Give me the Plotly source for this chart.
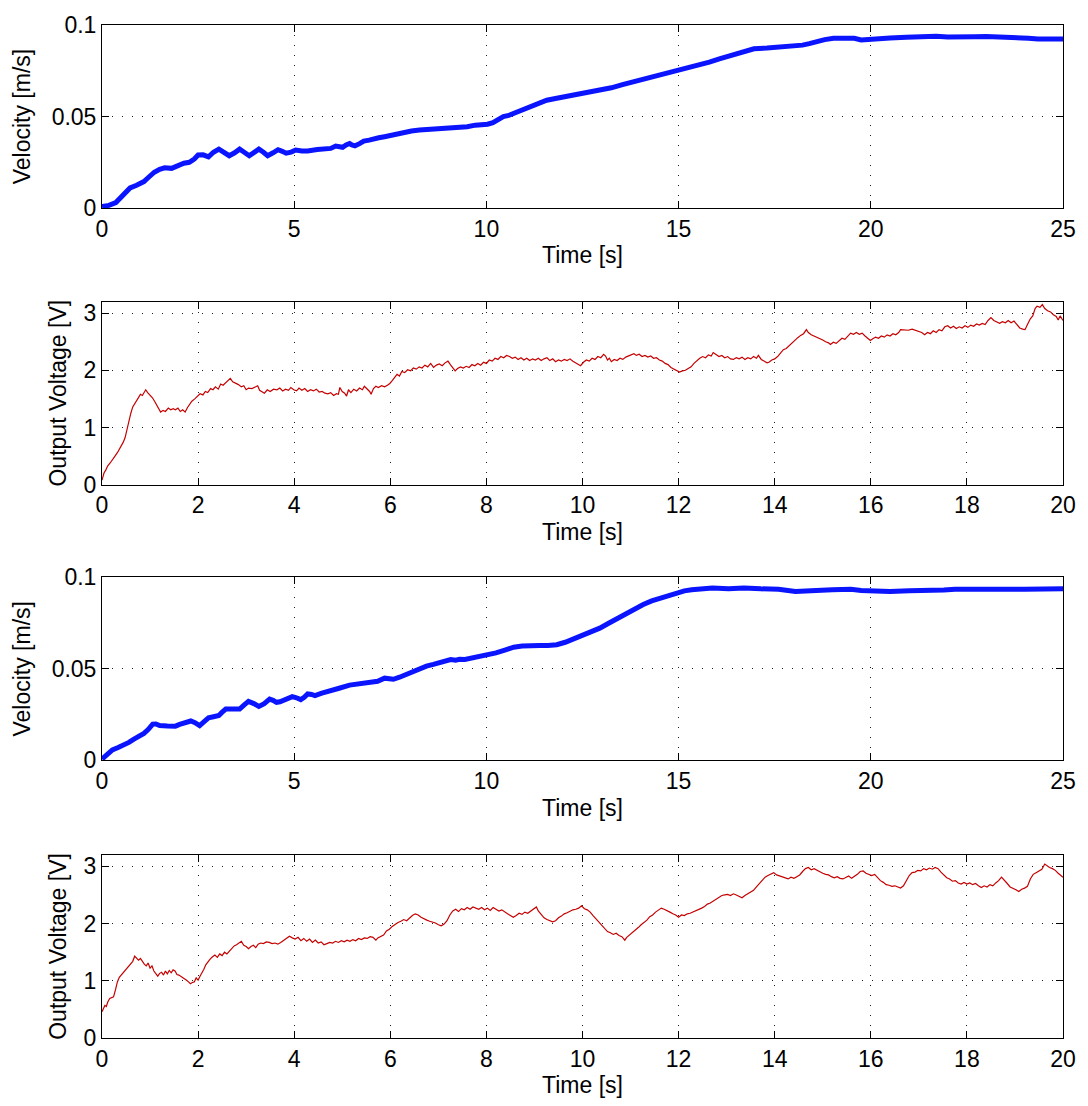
import plotly.graph_objects as go

# ---------------- data ----------------
# Panel 1: velocity (first run)
t_vel1 = [0, 0.18, 0.36, 0.55, 0.73, 0.9, 1.09, 1.22, 1.36, 1.5, 1.63, 1.81, 2.0, 2.13, 2.27, 2.4, 2.5, 2.63, 2.77,
          2.9, 3.04, 3.17, 3.31, 3.45, 3.58, 3.7, 3.83, 3.95, 4.08, 4.2, 4.31, 4.45, 4.58, 4.69, 4.79, 4.92, 5.04,
          5.2, 5.35, 5.6, 5.81, 5.95, 6.08, 6.17, 6.26, 6.35, 6.44, 6.5, 6.58, 6.7, 6.81, 6.95, 7.08, 7.2, 7.35,
          7.5, 7.62, 7.75, 7.9, 8.05, 8.26, 8.45, 8.62, 8.8, 8.98, 9.15, 9.35, 9.5, 9.71, 9.85, 10.03, 10.17,
          10.3, 10.44, 10.58, 10.71, 10.85, 10.98, 11.1, 11.25, 11.39, 11.57, 11.83, 12.05, 12.28, 12.6, 13.0,
          13.25, 13.54, 13.8, 14.08, 14.3, 14.53, 14.75, 14.98, 15.25, 15.52, 15.8, 16.06, 16.3, 16.51, 16.75,
          16.96, 17.3, 17.68, 17.95, 18.22, 18.4, 18.58, 18.8, 19.03, 19.3, 19.57, 19.75, 20.02, 20.5, 20.92,
          21.3, 21.7, 22.0, 22.37, 22.7, 23.0, 23.45, 23.8, 24.1, 24.35, 24.7, 25.0]
v_vel1 = [0.0008, 0.0015, 0.003, 0.0068, 0.011, 0.0125, 0.0145, 0.017, 0.0196, 0.0212, 0.022, 0.0217, 0.0236, 0.0245,
          0.025, 0.0268, 0.029, 0.0291, 0.028, 0.0305, 0.0322, 0.0308, 0.0286, 0.0302, 0.0322, 0.0305, 0.0286, 0.0303,
          0.0322, 0.0305, 0.0286, 0.0302, 0.0319, 0.031, 0.030, 0.0306, 0.0317, 0.0312, 0.0312, 0.032, 0.0326, 0.0326,
          0.0339, 0.0335, 0.0332, 0.0345, 0.0353, 0.0345, 0.034, 0.0352, 0.0366, 0.0371, 0.038, 0.0384, 0.039, 0.0397,
          0.0406, 0.041, 0.0417, 0.0421, 0.0426, 0.0428, 0.0431, 0.0433, 0.0435, 0.0437, 0.044, 0.0444, 0.0453, 0.0455,
          0.0458, 0.0467, 0.0485, 0.050, 0.0506, 0.0516, 0.0527, 0.054, 0.055, 0.0562, 0.057, 0.0589, 0.060, 0.0608,
          0.062, 0.0627, 0.0643, 0.0657, 0.0674, 0.0688, 0.0703, 0.0713, 0.0725, 0.0738, 0.0752, 0.0766, 0.078, 0.0797,
          0.0815, 0.0829, 0.0842, 0.0856, 0.087, 0.0874, 0.0878, 0.0884, 0.089, 0.0898, 0.091, 0.092, 0.0927, 0.0927,
          0.0927, 0.0918, 0.0924, 0.0929, 0.0933, 0.0936, 0.0938, 0.0934, 0.0938, 0.0936, 0.0937, 0.0935, 0.0932,
          0.0928, 0.0924, 0.0926, 0.0924]

# Panel 2: output voltage (first run)
t_volt1 = [0.00, 0.04, 0.08, 0.12, 0.17, 0.22, 0.27, 0.32, 0.36, 0.40, 0.44, 0.48, 0.52, 0.56, 0.60, 0.64, 0.68, 0.73,
           0.77, 0.80, 0.84, 0.88, 0.91, 0.95, 1.00, 1.05, 1.10, 1.14, 1.18, 1.22, 1.27, 1.32, 1.38, 1.43, 1.48, 1.53,
           1.58, 1.63, 1.68, 1.73, 1.78, 1.82, 1.87, 1.93, 1.98, 2.04, 2.10, 2.15, 2.20, 2.26, 2.31, 2.36, 2.42, 2.47,
           2.52, 2.58, 2.63, 2.67, 2.72, 2.78, 2.84, 2.90, 2.95, 3.00, 3.05, 3.12, 3.18, 3.24, 3.28, 3.33, 3.38, 3.44,
           3.50, 3.57, 3.64, 3.70, 3.76, 3.82, 3.88, 3.93, 3.99, 4.05, 4.10, 4.16, 4.22, 4.28, 4.34, 4.40, 4.46, 4.52,
           4.58, 4.64, 4.70, 4.76, 4.82, 4.88, 4.92, 4.95, 5.00, 5.05, 5.09, 5.13, 5.18, 5.24, 5.30, 5.36, 5.42, 5.46,
           5.52, 5.57, 5.60, 5.65, 5.70, 5.75, 5.82, 5.88, 5.94, 5.99, 6.04, 6.09, 6.14, 6.19, 6.24, 6.30, 6.36, 6.42,
           6.48, 6.54, 6.60, 6.66, 6.72, 6.78, 6.84, 6.90, 6.96, 7.02, 7.08, 7.14, 7.20, 7.25, 7.30, 7.35, 7.40, 7.46,
           7.52, 7.58, 7.64, 7.70, 7.76, 7.82, 7.88, 7.94, 8.00, 8.06, 8.12, 8.18, 8.24, 8.30, 8.36, 8.42, 8.48, 8.54,
           8.60, 8.66, 8.72, 8.78, 8.84, 8.90, 8.96, 9.02, 9.08, 9.14, 9.20, 9.26, 9.32, 9.38, 9.44, 9.50, 9.56, 9.62,
           9.68, 9.74, 9.80, 9.86, 9.92, 9.96, 10.02, 10.08, 10.14, 10.20, 10.26, 10.32, 10.38, 10.44, 10.48, 10.52,
           10.56, 10.60, 10.66, 10.72, 10.78, 10.84, 10.90, 10.96, 11.02, 11.07, 11.12, 11.18, 11.24, 11.30, 11.36,
           11.42, 11.48, 11.54, 11.60, 11.66, 11.72, 11.78, 11.84, 11.90, 11.96, 12.02, 12.08, 12.14, 12.20, 12.26,
           12.32, 12.38, 12.44, 12.50, 12.56, 12.62, 12.68, 12.72, 12.78, 12.84, 12.90, 12.96, 13.02, 13.08, 13.14,
           13.20, 13.26, 13.32, 13.38, 13.44, 13.50, 13.56, 13.62, 13.66, 13.72, 13.78, 13.84, 13.88, 13.94, 14.00,
           14.06, 14.12, 14.18, 14.24, 14.30, 14.36, 14.42, 14.48, 14.54, 14.60, 14.66, 14.70, 14.76, 14.82, 14.88,
           14.94, 15.00, 15.06, 15.12, 15.16, 15.22, 15.28, 15.34, 15.40, 15.46, 15.52, 15.58, 15.64, 15.70, 15.76,
           15.82, 15.88, 15.94, 15.99, 16.04, 16.10, 16.16, 16.22, 16.28, 16.34, 16.40, 16.46, 16.52, 16.58, 16.62,
           16.70, 16.78, 16.86, 16.94, 17.00, 17.06, 17.12, 17.18, 17.24, 17.30, 17.36, 17.42, 17.48, 17.54, 17.60,
           17.66, 17.72, 17.78, 17.84, 17.90, 17.96, 18.02, 18.08, 18.14, 18.20, 18.26, 18.32, 18.38, 18.44, 18.50,
           18.56, 18.62, 18.68, 18.74, 18.80, 18.86, 18.92, 18.98, 19.04, 19.10, 19.16, 19.21, 19.26, 19.32, 19.37,
           19.42, 19.46, 19.52, 19.57, 19.62, 19.68, 19.74, 19.80, 19.86, 19.90, 19.94, 20.00]
v_volt1 = [0.08, 0.20, 0.26, 0.33, 0.38, 0.45, 0.50, 0.56, 0.62, 0.67, 0.74, 0.82, 0.98, 1.10, 1.25, 1.36, 1.42, 1.50,
           1.55, 1.58, 1.56, 1.63, 1.66, 1.61, 1.57, 1.52, 1.45, 1.38, 1.31, 1.27, 1.30, 1.28, 1.34, 1.31, 1.33, 1.31,
           1.34, 1.28, 1.31, 1.27, 1.35, 1.40, 1.46, 1.50, 1.55, 1.59, 1.57, 1.63, 1.61, 1.68, 1.66, 1.71, 1.67, 1.76,
           1.74, 1.79, 1.82, 1.86, 1.80, 1.78, 1.75, 1.71, 1.73, 1.66, 1.69, 1.68, 1.70, 1.73, 1.65, 1.62, 1.60, 1.66,
           1.63, 1.67, 1.66, 1.69, 1.64, 1.67, 1.65, 1.70, 1.66, 1.64, 1.69, 1.65, 1.68, 1.63, 1.66, 1.64, 1.67, 1.62,
           1.63, 1.60, 1.59, 1.61, 1.56, 1.59, 1.58, 1.70, 1.63, 1.60, 1.55, 1.66, 1.61, 1.67, 1.64, 1.69, 1.66, 1.72,
           1.67, 1.63, 1.58, 1.68, 1.72, 1.70, 1.73, 1.71, 1.74, 1.77, 1.82, 1.87, 1.93, 1.90, 1.98, 1.96, 2.01, 1.99,
           2.04, 2.02, 2.06, 2.04, 2.09, 2.06, 2.12, 2.05, 2.09, 2.11, 2.08, 2.13, 2.16, 2.10, 2.04, 1.99, 2.03, 2.06,
           2.04, 2.07, 2.05, 2.10, 2.08, 2.12, 2.09, 2.14, 2.12, 2.18, 2.16, 2.21, 2.19, 2.24, 2.22, 2.26, 2.24, 2.21,
           2.23, 2.19, 2.22, 2.18, 2.21, 2.17, 2.20, 2.18, 2.21, 2.17, 2.20, 2.22, 2.17, 2.20, 2.15, 2.18, 2.16, 2.19,
           2.17, 2.20, 2.16, 2.13, 2.10, 2.08, 2.14, 2.18, 2.16, 2.21, 2.19, 2.24, 2.22, 2.28, 2.25, 2.18,
           2.21, 2.15, 2.19, 2.17, 2.21, 2.19, 2.23, 2.25, 2.27, 2.29, 2.26, 2.28, 2.24, 2.26, 2.23,
           2.25, 2.21, 2.22, 2.18, 2.16, 2.12, 2.10, 2.05, 2.02, 1.99, 1.97, 1.99, 2.00, 2.03, 2.06,
           2.12, 2.17, 2.21, 2.24, 2.22, 2.27, 2.25, 2.31, 2.27, 2.24, 2.26, 2.22, 2.24, 2.20, 2.19,
           2.22, 2.20, 2.23, 2.19, 2.22, 2.20, 2.24, 2.21, 2.26, 2.19, 2.16, 2.13, 2.14, 2.18, 2.20,
           2.24, 2.30, 2.36, 2.38, 2.43, 2.47, 2.52, 2.57, 2.61, 2.64, 2.71, 2.66, 2.62, 2.60, 2.58,
           2.55, 2.53, 2.50, 2.48, 2.45, 2.49, 2.47, 2.52, 2.56, 2.54, 2.60, 2.65, 2.63, 2.66, 2.63,
           2.65, 2.60, 2.56, 2.52, 2.55, 2.58, 2.56, 2.60, 2.58, 2.62, 2.60, 2.64, 2.62, 2.66, 2.71,
           2.71, 2.70, 2.72, 2.70, 2.68, 2.66, 2.62, 2.66, 2.64, 2.69, 2.66, 2.71, 2.69, 2.76, 2.78,
           2.74, 2.77, 2.73, 2.76, 2.74, 2.78, 2.75, 2.79, 2.77, 2.81, 2.79, 2.82, 2.80, 2.87, 2.92,
           2.87, 2.85, 2.82, 2.85, 2.83, 2.87, 2.83, 2.86, 2.80, 2.74, 2.72, 2.71, 2.80, 2.90, 2.95,
           3.08, 3.12, 3.10, 3.15, 3.08, 3.04, 3.02, 2.97, 2.94, 2.88, 2.95, 2.87]

# Panel 3: velocity (second run)
t_vel2 = [0, 0.1, 0.27, 0.42, 0.59, 0.7, 0.82, 0.95, 1.09, 1.2, 1.32, 1.4, 1.5, 1.7, 1.91, 2.02, 2.13, 2.22, 2.31,
          2.42, 2.54, 2.65, 2.77, 2.9, 3.04, 3.12, 3.22, 3.4, 3.58, 3.7, 3.81, 3.95, 4.08, 4.22, 4.36, 4.45, 4.54,
          4.63, 4.72, 4.84, 4.95, 5.06, 5.17, 5.26, 5.35, 5.45, 5.54, 5.72, 5.9, 6.17, 6.44, 6.7, 6.98, 7.17, 7.35,
          7.47, 7.58, 7.74, 7.9, 8.04, 8.17, 8.3, 8.44, 8.62, 8.8, 8.93, 9.07, 9.2, 9.3, 9.44, 9.62, 9.8, 10.02,
          10.25, 10.48, 10.71, 10.93, 11.16, 11.39, 11.6, 11.83, 12.05, 12.28, 12.5, 12.73, 12.95, 13.18, 13.4,
          13.63, 13.85, 14.08, 14.3, 14.53, 14.75, 14.98, 15.15, 15.34, 15.6, 15.88, 16.3, 16.7, 17.14, 17.6,
          18.04, 18.3, 18.58, 19.0, 19.48, 19.75, 20.02, 20.5, 21.0, 21.55, 21.9, 22.19, 22.6, 23.0, 23.54, 24.0,
          24.5, 25.0]
v_vel2 = [0.0007, 0.0028, 0.0057, 0.007, 0.0084, 0.0098, 0.0115, 0.013, 0.0147, 0.0168, 0.0198, 0.0199, 0.019,
          0.0188, 0.0187, 0.0196, 0.0206, 0.0212, 0.0215, 0.0206, 0.019, 0.021, 0.0232, 0.0238, 0.0245, 0.0262, 0.028,
          0.028, 0.028, 0.0303, 0.0322, 0.031, 0.0295, 0.031, 0.0335, 0.0328, 0.0317, 0.032, 0.0326, 0.0335, 0.0348,
          0.0342, 0.0332, 0.0345, 0.0363, 0.036, 0.0354, 0.0367, 0.038, 0.0394, 0.0411, 0.0417, 0.0422, 0.0432,
          0.0449, 0.0446, 0.0443, 0.0454, 0.0467, 0.0483, 0.0496, 0.0505, 0.0515, 0.0524, 0.0533, 0.0542, 0.0551,
          0.0547, 0.0552, 0.0551, 0.0558, 0.0567, 0.0575, 0.0587, 0.0602, 0.0618, 0.0624, 0.0628, 0.0628, 0.0628,
          0.0632, 0.0645, 0.0664, 0.068, 0.070, 0.0722, 0.0749, 0.0775, 0.0802, 0.0828, 0.0851, 0.0871, 0.0887,
          0.0903, 0.0916, 0.0926, 0.0932, 0.0938, 0.0941, 0.0938, 0.0941, 0.0937, 0.0935, 0.0923, 0.0928, 0.0928,
          0.0932, 0.0934, 0.0928, 0.0925, 0.0923, 0.0926, 0.0925, 0.093, 0.0934, 0.0933, 0.0934, 0.0937, 0.0934,
          0.0936, 0.0937]

# Panel 4: output voltage (second run)
t_volt2 = [0.00, 0.03, 0.06, 0.09, 0.12, 0.16, 0.20, 0.24, 0.28, 0.32, 0.36, 0.40, 0.44, 0.48, 0.52, 0.56, 0.60, 0.64,
           0.68, 0.72, 0.76, 0.80, 0.84, 0.88, 0.92, 0.96, 1.00, 1.04, 1.08, 1.12, 1.16, 1.20, 1.24, 1.28, 1.32, 1.36,
           1.40, 1.44, 1.48, 1.52, 1.56, 1.60, 1.64, 1.68, 1.72, 1.76, 1.80, 1.84, 1.88, 1.92, 1.96, 2.00, 2.04, 2.08,
           2.12, 2.16, 2.20, 2.25, 2.30, 2.35, 2.40, 2.45, 2.50, 2.55, 2.60, 2.65, 2.70, 2.75, 2.80, 2.85, 2.90, 2.95,
           3.00, 3.05, 3.10, 3.15, 3.20, 3.25, 3.30, 3.36, 3.42, 3.48, 3.54, 3.60, 3.66, 3.72, 3.78, 3.84, 3.90, 3.96,
           4.02, 4.08, 4.14, 4.20, 4.26, 4.32, 4.38, 4.44, 4.50, 4.56, 4.62, 4.68, 4.74, 4.80, 4.86, 4.92, 4.98, 5.04,
           5.10, 5.16, 5.22, 5.28, 5.34, 5.40, 5.46, 5.52, 5.58, 5.64, 5.70, 5.74, 5.80, 5.86, 5.92, 5.98, 6.04, 6.10,
           6.16, 6.22, 6.28, 6.34, 6.40, 6.46, 6.52, 6.58, 6.64, 6.70, 6.76, 6.82, 6.88, 6.94, 7.00, 7.06, 7.12, 7.18,
           7.24, 7.30, 7.36, 7.42, 7.48, 7.54, 7.60, 7.66, 7.72, 7.78, 7.84, 7.90, 7.96, 8.02, 8.08, 8.14, 8.20, 8.26,
           8.32, 8.38, 8.44, 8.50, 8.56, 8.62, 8.68, 8.74, 8.80, 8.86, 8.92, 8.98, 9.04, 9.08, 9.14, 9.20, 9.26, 9.32,
           9.38, 9.44, 9.50, 9.56, 9.62, 9.68, 9.74, 9.80, 9.86, 9.92, 9.98, 10.04, 10.10, 10.16, 10.22, 10.28, 10.34,
           10.40, 10.46, 10.52, 10.58, 10.64, 10.70, 10.76, 10.82, 10.88, 10.92, 10.98, 11.04, 11.10, 11.16, 11.22,
           11.28, 11.34, 11.40, 11.46, 11.52, 11.58, 11.64, 11.70, 11.76, 11.82, 11.88, 11.94, 12.00, 12.06, 12.12,
           12.18, 12.24, 12.30, 12.36, 12.42, 12.48, 12.54, 12.60, 12.66, 12.72, 12.78, 12.84, 12.90, 12.96, 13.02,
           13.08, 13.14, 13.20, 13.26, 13.32, 13.38, 13.44, 13.50, 13.56, 13.62, 13.68, 13.74, 13.80, 13.86, 13.92,
           13.98, 14.04, 14.10, 14.16, 14.22, 14.28, 14.34, 14.40, 14.46, 14.52, 14.58, 14.64, 14.70, 14.76, 14.82,
           14.88, 14.94, 15.00, 15.06, 15.12, 15.18, 15.24, 15.30, 15.36, 15.42, 15.48, 15.54, 15.60, 15.66, 15.72,
           15.78, 15.84, 15.90, 15.96, 16.02, 16.08, 16.14, 16.20, 16.26, 16.32, 16.38, 16.44, 16.50, 16.56, 16.62,
           16.68, 16.74, 16.80, 16.86, 16.92, 16.98, 17.04, 17.10, 17.16, 17.22, 17.28, 17.34, 17.40, 17.46, 17.52,
           17.58, 17.64, 17.70, 17.76, 17.82, 17.88, 17.94, 18.00, 18.06, 18.12, 18.18, 18.24, 18.30, 18.36, 18.42,
           18.48, 18.54, 18.60, 18.66, 18.72, 18.78, 18.84, 18.90, 18.96, 19.02, 19.08, 19.14, 19.20, 19.26, 19.32,
           19.38, 19.44, 19.50, 19.56, 19.62, 19.66, 19.72, 19.78, 19.84, 19.90, 19.96, 20.00]
v_volt2 = [0.46, 0.52, 0.57, 0.55, 0.63, 0.69, 0.70, 0.72, 0.84, 0.98, 1.06, 1.10, 1.16, 1.20, 1.24, 1.27, 1.30, 1.34,
           1.43, 1.40, 1.36, 1.39, 1.33, 1.29, 1.26, 1.31, 1.22, 1.26, 1.17, 1.13, 1.08, 1.13, 1.15, 1.10, 1.17, 1.12,
           1.18, 1.14, 1.19, 1.17, 1.11, 1.10, 1.08, 1.06, 1.03, 1.01, 0.98, 0.95, 0.97, 0.98, 1.05, 1.01, 1.08, 1.13,
           1.20, 1.28, 1.33, 1.38, 1.42, 1.45, 1.41, 1.47, 1.44, 1.50, 1.47, 1.52, 1.58, 1.61, 1.63, 1.66, 1.69, 1.62,
           1.60, 1.56, 1.60, 1.62, 1.58, 1.64, 1.66, 1.65, 1.68, 1.67, 1.65, 1.66, 1.64, 1.67, 1.71, 1.74, 1.78, 1.75,
           1.73, 1.76, 1.70, 1.74, 1.69, 1.73, 1.67, 1.71, 1.66, 1.68, 1.63, 1.65, 1.67, 1.66, 1.69, 1.67, 1.70, 1.68,
           1.71, 1.69, 1.72, 1.70, 1.74, 1.72, 1.75, 1.74, 1.77, 1.76, 1.71, 1.75, 1.78, 1.80, 1.87, 1.90, 1.95, 1.99,
           2.02, 2.04, 2.07, 2.05, 2.10, 2.14, 2.17, 2.15, 2.11, 2.08, 2.06, 2.04, 2.03, 2.01, 1.98, 1.96, 1.99, 2.05,
           2.15, 2.22, 2.25, 2.21, 2.26, 2.24, 2.28, 2.25, 2.29, 2.27, 2.25, 2.28, 2.24, 2.27, 2.23, 2.28, 2.25, 2.22,
           2.24, 2.20, 2.17, 2.14, 2.11, 2.14, 2.18, 2.16, 2.20, 2.18, 2.22, 2.26, 2.29, 2.22, 2.16, 2.10, 2.07, 2.05,
           2.03, 2.05, 2.10, 2.13, 2.17, 2.19, 2.22, 2.24, 2.25, 2.27, 2.31, 2.26, 2.24, 2.20, 2.14, 2.08, 2.02,
           1.98, 1.91, 1.86, 1.84, 1.81, 1.83, 1.79, 1.77, 1.71, 1.76, 1.80, 1.85, 1.89, 1.93, 1.98,
           2.02, 2.06, 2.12, 2.15, 2.20, 2.24, 2.27, 2.25, 2.23, 2.20, 2.17, 2.15, 2.11, 2.15, 2.14,
           2.17, 2.18, 2.20, 2.22, 2.24, 2.27, 2.30, 2.34, 2.36, 2.39, 2.42, 2.46, 2.49, 2.50, 2.51,
           2.49, 2.52, 2.50, 2.47, 2.45, 2.49, 2.52, 2.55, 2.58, 2.64, 2.70, 2.77, 2.81, 2.84, 2.87,
           2.89, 2.85, 2.83, 2.81, 2.79, 2.78, 2.81, 2.79, 2.82, 2.85, 2.91, 2.96, 2.98, 2.94, 2.96,
           2.93, 2.90, 2.88, 2.86, 2.85, 2.82, 2.80, 2.82, 2.79, 2.78, 2.81, 2.83, 2.79, 2.82, 2.86,
           2.91, 2.92, 2.88, 2.86, 2.84, 2.86, 2.80, 2.75, 2.72, 2.68, 2.67, 2.65, 2.66, 2.64, 2.62,
           2.66, 2.74, 2.84, 2.89, 2.90, 2.93, 2.92, 2.96, 2.94, 2.97, 2.95, 2.98, 2.96, 2.90, 2.84,
           2.80, 2.78, 2.74, 2.75, 2.71, 2.69, 2.72, 2.69, 2.71, 2.68, 2.70, 2.66, 2.63, 2.66, 2.64,
           2.68, 2.66, 2.71, 2.75, 2.81, 2.76, 2.70, 2.64, 2.62, 2.59, 2.56, 2.60, 2.62, 2.65, 2.78,
           2.86, 2.89, 2.92, 2.95, 3.04, 3.01, 2.98, 2.96, 2.93, 2.88, 2.84, 2.81]

x_title = "Time [s]"
y_title_vel = "Velocity [m/s]"
y_title_volt = "Output Voltage [V]"

vel_ticks = [0, 0.05, 0.1]
vel_ticktext = ["0", "0.05", "0.1"]
volt_ticks = [0, 1, 2, 3]

BLUE = "#0a14ff"
RED = "#c40000"
FONT = "Liberation Sans, Arial, Helvetica, sans-serif"

# ---------------- figure ----------------
fig = go.Figure()
fig.add_trace(go.Scatter(x=t_vel1, y=v_vel1, mode="lines", line=dict(color=BLUE, width=5),
                         xaxis="x", yaxis="y", showlegend=False))
fig.add_trace(go.Scatter(x=t_volt1, y=v_volt1, mode="lines", line=dict(color=RED, width=1.2),
                         xaxis="x2", yaxis="y2", showlegend=False))
fig.add_trace(go.Scatter(x=t_vel2, y=v_vel2, mode="lines", line=dict(color=BLUE, width=5),
                         xaxis="x3", yaxis="y3", showlegend=False))
fig.add_trace(go.Scatter(x=t_volt2, y=v_volt2, mode="lines", line=dict(color=RED, width=1.2),
                         xaxis="x4", yaxis="y4", showlegend=False))

L, R, T, B = 102, 20, 23, 65
H = 1106
plot_h = H - T - B

def dom(top_px, bot_px):
    return [(H - B - bot_px) / plot_h, (H - B - top_px) / plot_h]

domains = [dom(23, 207), dom(301, 485), dom(578, 762), dom(857, 1041)]

common = dict(
    showline=True, linecolor="black", linewidth=1, mirror="ticks",
    ticks="inside", ticklen=7, tickcolor="black", tickwidth=1,
    showgrid=True, gridcolor="#222222", gridwidth=1, griddash="1px,9px",
    zeroline=False,
    tickfont=dict(family=FONT, size=23, color="black"),
)
title_font = dict(family=FONT, size=23, color="black")

layout = dict(
    width=1088, height=1106,
    margin=dict(l=L, r=R, t=T, b=B),
    paper_bgcolor="white", plot_bgcolor="white",
    font=dict(family=FONT, color="black"),
    showlegend=False,
)

xranges = [[0, 25], [0, 20], [0, 25], [0, 20]]
xdticks = [5, 2, 5, 2]
for i in range(4):
    sx = "xaxis" if i == 0 else f"xaxis{i+1}"
    sy = "yaxis" if i == 0 else f"yaxis{i+1}"
    anchor_x = "x" if i == 0 else f"x{i+1}"
    anchor_y = "y" if i == 0 else f"y{i+1}"
    layout[sx] = dict(common, domain=[0, 1], anchor=anchor_y, range=xranges[i], dtick=xdticks[i], tick0=0,
                      title=dict(text=x_title, font=title_font, standoff=6))
    if i % 2 == 0:
        yax = dict(common, domain=domains[i], anchor=anchor_x, range=[0, 0.1],
                   tickvals=vel_ticks, ticktext=vel_ticktext,
                   title=dict(text=y_title_vel, font=title_font, standoff=14))
    else:
        yax = dict(common, domain=domains[i], anchor=anchor_x, range=[0, 3.2],
                   tickvals=volt_ticks,
                   title=dict(text=y_title_volt, font=title_font, standoff=10))
    layout[sy] = yax

fig.update_layout(**layout)
fig.write_html("out.html",
               config={"displayModeBar": False, "staticPlot": True},
               post_script="document.body.style.margin='0px';document.body.style.overflow='hidden';")
